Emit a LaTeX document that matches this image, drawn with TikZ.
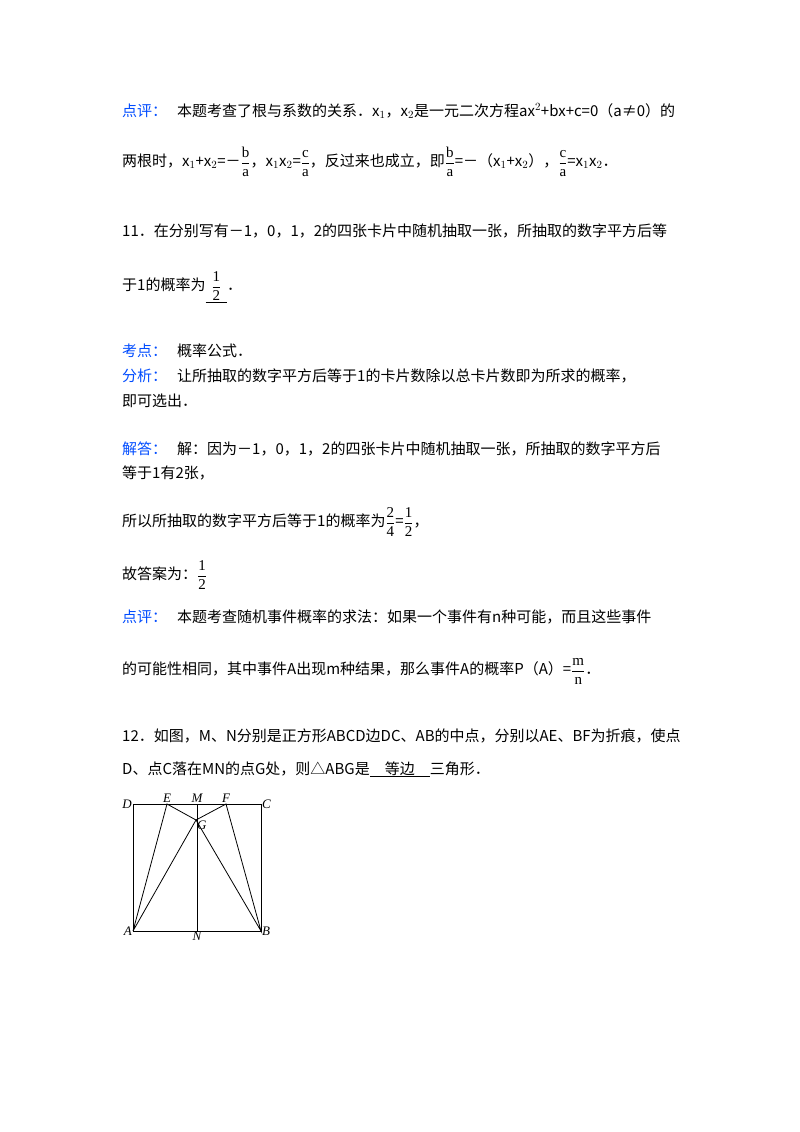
\documentclass[tikz,border=0pt]{standalone}
\usepackage{fontspec}
\setmainfont{Liberation Serif}
\newfontfamily\cjk{Noto Sans CJK SC}
\newcommand{\fr}[2]{\raisebox{-0.1ex}{$\displaystyle\frac{\mathrm{#1}}{\mathrm{#2}}$}}
\begin{document}
\begin{tikzpicture}[x=1pt,y=-1pt,
  ln/.style={anchor=base west,inner sep=0pt,font=\cjk\fontsize{15}{18}\selectfont},
  lbl/.style={ln,text=blue!70!cyan},
  pt/.style={inner sep=1pt,font=\itshape\fontsize{13}{15}\selectfont},
  seg/.style={line width=0.8pt}]
\useasboundingbox (0,0) rectangle (800,1132);
\fill[white] (0,0) rectangle (800,1132);
% block 1
\node[lbl] (l1) at (122,116) {点评：};
\node[ln] (t1) at (177,116) {本题考查了根与系数的关系．x$_1$，x$_2$是一元二次方程ax$^2$+bx+c=0（a≠0）的};
\node[ln] (t2) at (122,166) {两根时，x$_1$+x$_2$=－\fr{b}{a}，x$_1$x$_2$=\fr{c}{a}，反过来也成立，即\fr{b}{a}=－（x$_1$+x$_2$），\fr{c}{a}=x$_1$x$_2$．};
% 11
\node[ln] (t3) at (122,236) {11．在分别写有－1，0，1，2的四张卡片中随机抽取一张，所抽取的数字平方后等};
\node[ln] (t4) at (122,290) {于1的概率为\underline{\ \,\fr{1}{2}\,\ }．};
\node[lbl] (l2) at (122,356) {考点：};
\node[ln] (t5) at (177,356) {概率公式．};
\node[lbl] (l3) at (122,381) {分析：};
\node[ln] (t6) at (177,381) {让所抽取的数字平方后等于1的卡片数除以总卡片数即为所求的概率，};
\node[ln] (t7) at (122,406) {即可选出．};
\node[lbl] (l4) at (122,454) {解答：};
\node[ln] (t8) at (177,454) {解：因为－1，0，1，2的四张卡片中随机抽取一张，所抽取的数字平方后};
\node[ln] (t9) at (122,478) {等于1有2张，};
\node[ln] (t10) at (122,526) {所以所抽取的数字平方后等于1的概率为\fr{2}{4}=\fr{1}{2}，};
\node[ln] (t11) at (122,579) {故答案为：\fr{1}{2}};
\node[lbl] (l5) at (122,622) {点评：};
\node[ln] (t12) at (177,622) {本题考查随机事件概率的求法：如果一个事件有n种可能，而且这些事件};
\node[ln] (t13) at (122,674) {的可能性相同，其中事件A出现m种结果，那么事件A的概率P（A）=\fr{m}{n}．};
% 12
\node[ln] (t14) at (122,741) {12．如图，M、N分别是正方形ABCD边DC、AB的中点，分别以AE、BF为折痕，使点};
\node[ln] (t15) at (122,774) {D、点C落在MN的点G处，则△ABG是\underline{\quad 等边\quad}三角形．};
% figure
\coordinate (A) at (133,931);
\coordinate (B) at (261,931);
\coordinate (C) at (261,804);
\coordinate (D) at (133,804);
\coordinate (M) at (197,804);
\coordinate (N) at (197,931);
\coordinate (E) at (167,804);
\coordinate (F) at (226,804);
\coordinate (G) at (196,820);
\draw[seg] (A) -- (B) -- (C) -- (D) -- cycle;
\draw[seg] (M) -- (N);
\draw[seg] (A) -- (E) -- (G) -- (F) -- (B) -- (G) -- (A);
\node[pt,anchor=east] (nD) at (D) {D};
\node[pt,anchor=west] (nC) at (C) {C};
\node[pt,anchor=south] (nE) at (E) {E};
\node[pt,anchor=south] (nM) at (M) {M};
\node[pt,anchor=south] (nF) at (F) {F};
\node[pt,anchor=north west] (nG) at (G) {G};
\node[pt,anchor=east] (nA) at (A) {A};
\node[pt,anchor=west] (nB) at (B) {B};
\node[pt,anchor=north] (nN) at (N) {N};
\end{tikzpicture}
\end{document}
